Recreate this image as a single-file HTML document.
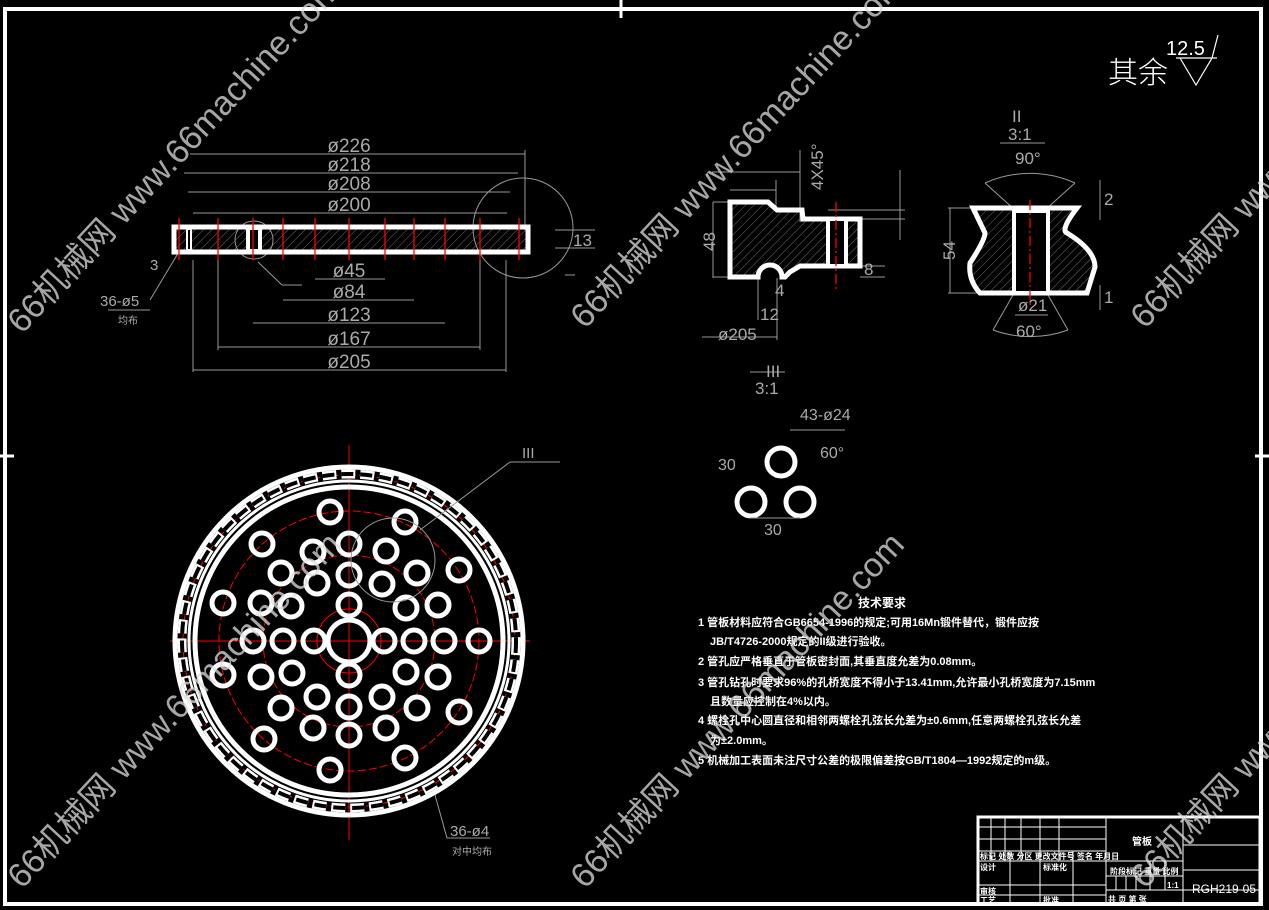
<!DOCTYPE html>
<html><head><meta charset="utf-8"><style>
html,body{margin:0;padding:0;background:#000;width:1269px;height:910px;overflow:hidden}
svg{display:block}
text{font-family:"Liberation Sans","Noto Sans CJK SC",sans-serif}
</style></head><body>
<svg width="1269" height="910" viewBox="0 0 1269 910" xmlns="http://www.w3.org/2000/svg">
<defs>
<pattern id="h" width="6" height="6" patternUnits="userSpaceOnUse" patternTransform="rotate(45)">
<line x1="0" y1="0" x2="0" y2="6" stroke="#888" stroke-width="0.8"/></pattern>
</defs>
<rect width="1269" height="910" fill="#000"/>
<!-- border -->
<rect x="5" y="9" width="1256" height="895" fill="none" stroke="#fff" stroke-width="4"/>
<g stroke="#fff" stroke-width="3">
<line x1="621" y1="0" x2="621" y2="18"/><line x1="0" y1="456" x2="14" y2="456"/>
<line x1="1255" y1="456" x2="1269" y2="456"/>
</g>

<!-- top view section -->
<g stroke="#999" stroke-width="1" fill="none">
<line x1="190" y1="154" x2="525" y2="154"/><line x1="184" y1="173" x2="518" y2="173"/>
<line x1="188" y1="192" x2="510" y2="192"/><line x1="193" y1="213" x2="507" y2="213"/>
<line x1="315" y1="279" x2="385" y2="279"/><line x1="283" y1="300" x2="414" y2="300"/>
<line x1="253" y1="323" x2="445" y2="323"/><line x1="218" y1="347" x2="480" y2="347"/>
<line x1="193" y1="370" x2="506" y2="370"/>
<line x1="193" y1="260" x2="193" y2="372"/><line x1="506" y1="260" x2="506" y2="372"/>
<line x1="525" y1="150" x2="525" y2="230"/><line x1="218" y1="255" x2="218" y2="350"/><line x1="480" y1="255" x2="480" y2="350"/>
<circle cx="523" cy="228" r="50"/><circle cx="254" cy="240" r="19"/>
<line x1="258" y1="262" x2="282" y2="285"/><line x1="282" y1="285" x2="302" y2="285"/>
<line x1="565" y1="275" x2="575" y2="275"/><line x1="180" y1="250" x2="150" y2="300"/>
<line x1="108" y1="310" x2="150" y2="310"/>
<line x1="555" y1="230" x2="595" y2="230"/><line x1="555" y1="248" x2="595" y2="248"/>
</g>
<rect x="174" y="227" width="354" height="25" fill="url(#h)" stroke="#fff" stroke-width="5"/>
<rect x="187" y="229" width="4" height="21" fill="#000" stroke="#fff" stroke-width="2"/>
<rect x="248" y="228" width="12" height="23" fill="#000" stroke="#fff" stroke-width="4"/>
<g stroke="#f00" stroke-width="1.3">
<line x1="179" y1="218" x2="179" y2="260"/><line x1="218" y1="218" x2="218" y2="260"/><line x1="253" y1="218" x2="253" y2="260"/>
<line x1="283" y1="218" x2="283" y2="260"/><line x1="315" y1="218" x2="315" y2="260"/><line x1="349" y1="218" x2="349" y2="260"/>
<line x1="385" y1="218" x2="385" y2="260"/><line x1="414" y1="218" x2="414" y2="260"/><line x1="445" y1="218" x2="445" y2="260"/>
<line x1="480" y1="218" x2="480" y2="260"/><line x1="519" y1="218" x2="519" y2="260"/>
</g>
<g fill="#aaa" font-size="19" text-anchor="middle">
<text x="349" y="152">ø226</text><text x="349" y="171">ø218</text><text x="349" y="190">ø208</text><text x="349" y="211">ø200</text>
<text x="349" y="277">ø45</text><text x="349" y="298">ø84</text><text x="349" y="321">ø123</text>
<text x="349" y="345">ø167</text><text x="349" y="368">ø205</text>
</g>
<text x="100" y="306" fill="#aaa" font-size="15">36-ø5</text>
<text x="118" y="324" fill="#aaa" font-size="10">均布</text>
<text x="150" y="270" fill="#aaa" font-size="15">3</text>
<text x="573" y="246" fill="#aaa" font-size="17">13</text>

<!-- surface mark -->
<text x="1108" y="83" fill="#fff" font-size="30" font-family="Noto Sans CJK SC,sans-serif" font-weight="300">其余</text>
<text x="1166" y="55" fill="#fff" font-size="20">12.5</text>
<path d="M1176 58 L1217 58 M1180 58 L1196 85 L1212 58 L1218 35" stroke="#fff" fill="none" stroke-width="1.2"/>

<!-- detail III section -->
<g stroke="#999" stroke-width="1" fill="none">
<line x1="713" y1="202" x2="713" y2="278"/><line x1="713" y1="202" x2="730" y2="202"/><line x1="713" y1="277" x2="730" y2="277"/>
<line x1="712" y1="172" x2="800" y2="172"/><line x1="730" y1="190" x2="776" y2="190"/><line x1="776" y1="180" x2="776" y2="210"/>
<line x1="800" y1="150" x2="800" y2="222"/><line x1="828" y1="210" x2="905" y2="210"/><line x1="860" y1="219" x2="905" y2="219"/>
<line x1="900" y1="170" x2="900" y2="240"/><line x1="860" y1="266" x2="885" y2="266"/><line x1="860" y1="277" x2="885" y2="277"/>
<line x1="758" y1="278" x2="758" y2="320"/><line x1="777" y1="278" x2="777" y2="340"/>
<line x1="702" y1="337" x2="777" y2="337"/><line x1="750" y1="372" x2="785" y2="372"/>
</g>
<path d="M730 202 L768 202 L777 210 L802 210 L803 219 L860 219 L860 266 L800 266 L790 272 L785 277 L782 277 A12 12 0 0 0 758 277 L730 277 Z" fill="url(#h)" stroke="#fff" stroke-width="5"/>
<rect x="828" y="219" width="18" height="47" fill="#000" stroke="#fff" stroke-width="4"/>
<line x1="836" y1="202" x2="836" y2="290" stroke="#f00" stroke-width="1.3" stroke-dasharray="10 3 2 3"/>
<g fill="#aaa" font-size="17">
<text x="694" y="250" transform="rotate(-90 705 240)">48</text>
<text x="718" y="340">ø205</text><text x="760" y="320">12</text><text x="766" y="377">III</text><text x="755" y="394">3:1</text>
<text x="818" y="195" transform="rotate(-90 818 190)">4X45°</text>
<text x="864" y="275">8</text><text x="775" y="296">4</text>
</g>

<!-- detail II -->
<g stroke="#999" stroke-width="1" fill="none">
<line x1="948" y1="208" x2="973" y2="208"/><line x1="948" y1="293" x2="980" y2="293"/><line x1="950" y1="208" x2="950" y2="293"/>
<path d="M985 183 A110 110 0 0 1 1075 183"/><path d="M993 330 A110 110 0 0 0 1068 330"/>
<line x1="985" y1="183" x2="1015" y2="210"/><line x1="1075" y1="183" x2="1045" y2="210"/>
<line x1="993" y1="330" x2="1013" y2="295"/><line x1="1068" y1="330" x2="1048" y2="295"/>
<line x1="1015" y1="315" x2="1048" y2="315"/><line x1="1000" y1="143" x2="1045" y2="143"/>
<line x1="1100" y1="180" x2="1100" y2="220"/><line x1="1100" y1="285" x2="1100" y2="310"/>
</g>
<path d="M973 208 L1077 208 Q1060 230 1067 233 Q1095 250 1095 267 L1087 293 L980 293 Q968 280 970 263 Q985 240 985 233 Z" fill="url(#h)" stroke="#fff" stroke-width="5"/>
<rect x="1014" y="211" width="34" height="82" fill="#000" stroke="#fff" stroke-width="4"/>
<line x1="1030" y1="200" x2="1030" y2="305" stroke="#f00" stroke-width="1.3" stroke-dasharray="10 3 2 3"/>
<g fill="#aaa" font-size="17">
<text x="1012" y="122">II</text><text x="1008" y="140">3:1</text>
<text x="1015" y="164">90°</text><text x="1016" y="337">60°</text><text x="1018" y="311">ø21</text>
<text x="935" y="260" transform="rotate(-90 945 250)">54</text><text x="1104" y="205">2</text><text x="1104" y="303">1</text>
</g>

<!-- three holes -->
<g fill="none" stroke="#fff" stroke-width="5">
<circle cx="781" cy="462" r="14"/><circle cx="751" cy="502" r="14"/><circle cx="800" cy="502" r="14"/>
</g>
<g stroke="#999" stroke-width="1" fill="none"><line x1="790" y1="430" x2="845" y2="430"/><line x1="750" y1="518" x2="800" y2="518"/></g>
<g fill="#aaa" font-size="16"><text x="800" y="420">43-ø24</text><text x="764" y="535">30</text><text x="718" y="470">30</text><text x="820" y="458">60°</text></g>

<!-- bottom plan view -->
<g stroke="#f00" stroke-width="1" fill="none">
<line x1="170" y1="641" x2="530" y2="641"/><line x1="349" y1="445" x2="349" y2="840"/>
<circle cx="349" cy="641" r="32"/><circle cx="349" cy="641" r="86" stroke-dasharray="8 3"/>
<circle cx="349" cy="641" r="130" stroke-dasharray="8 3"/><circle cx="349" cy="641" r="166" stroke-dasharray="10 3 2 3"/>
</g>
<circle cx="349" cy="641" r="174" fill="none" stroke="#fff" stroke-width="5"/>
<circle cx="349" cy="641" r="167" fill="none" stroke="#fff" stroke-width="9" stroke-dasharray="14 5"/>
<circle cx="349" cy="641" r="167" fill="none" stroke="#000" stroke-width="4" stroke-dasharray="12 7"/>
<circle cx="349" cy="641" r="160" fill="none" stroke="#fff" stroke-width="3"/>
<circle cx="349" cy="641" r="154" fill="none" stroke="#fff" stroke-width="5"/>
<circle cx="349" cy="641" r="21" fill="none" stroke="#fff" stroke-width="5"/>
<g fill="none" stroke="#fff" stroke-width="5">
<circle cx="330" cy="512" r="11"/><circle cx="405" cy="522" r="11"/><circle cx="262" cy="544" r="11"/><circle cx="313" cy="552" r="11"/>
<circle cx="349" cy="544" r="11"/><circle cx="386" cy="551" r="11"/><circle cx="281" cy="573" r="11"/><circle cx="349" cy="575" r="11"/>
<circle cx="417" cy="573" r="11"/><circle cx="459" cy="570" r="11"/><circle cx="317" cy="583" r="11"/><circle cx="382" cy="584" r="11"/>
<circle cx="223" cy="603" r="11"/><circle cx="261" cy="603" r="11"/><circle cx="291" cy="606" r="11"/><circle cx="349" cy="605" r="11"/>
<circle cx="406" cy="608" r="11"/><circle cx="438" cy="605" r="11"/><circle cx="253" cy="641" r="11"/><circle cx="283" cy="641" r="11"/>
<circle cx="314" cy="641" r="11"/><circle cx="384" cy="641" r="11"/><circle cx="414" cy="641" r="11"/><circle cx="444" cy="641" r="11"/>
<circle cx="479" cy="641" r="11"/><circle cx="223" cy="675" r="11"/><circle cx="261" cy="677" r="11"/><circle cx="292" cy="673" r="11"/>
<circle cx="349" cy="675" r="11"/><circle cx="406" cy="672" r="11"/><circle cx="438" cy="677" r="11"/><circle cx="281" cy="708" r="11"/>
<circle cx="317" cy="697" r="11"/><circle cx="349" cy="707" r="11"/><circle cx="382" cy="697" r="11"/><circle cx="417" cy="708" r="11"/>
<circle cx="459" cy="712" r="11"/><circle cx="313" cy="728" r="11"/><circle cx="349" cy="735" r="11"/><circle cx="386" cy="728" r="11"/>
<circle cx="264" cy="739" r="11"/><circle cx="330" cy="770" r="11"/><circle cx="405" cy="758" r="11"/>
</g>
<g stroke="#999" stroke-width="1" fill="none">
<circle cx="393" cy="560" r="42"/><line x1="420" y1="530" x2="510" y2="462"/><line x1="510" y1="462" x2="560" y2="462"/>
<line x1="435" y1="795" x2="447" y2="838"/><line x1="447" y1="838" x2="490" y2="838"/>
</g>
<text x="522" y="458" fill="#aaa" font-size="15">III</text>
<text x="450" y="836" fill="#aaa" font-size="15">36-ø4</text>
<text x="452" y="855" fill="#aaa" font-size="10">对中均布</text>

<!-- tech requirements -->
<g fill="#fff" font-size="11" font-family="Noto Sans CJK SC,sans-serif" font-weight="bold">
<text x="858" y="607" font-size="12">技术要求</text>
<text x="698" y="626">1 管板材料应符合GB6654-1996的规定;可用16Mn锻件替代，锻件应按</text>
<text x="710" y="645">JB/T4726-2000规定的II级进行验收。</text>
<text x="698" y="665">2 管孔应严格垂直于管板密封面,其垂直度允差为0.08mm。</text>
<text x="698" y="686">3 管孔钻孔时要求96%的孔桥宽度不得小于13.41mm,允许最小孔桥宽度为7.15mm</text>
<text x="710" y="705">且数量应控制在4%以内。</text>
<text x="698" y="724">4 螺栓孔中心圆直径和相邻两螺栓孔弦长允差为±0.6mm,任意两螺栓孔弦长允差</text>
<text x="710" y="744">为±2.0mm。</text>
<text x="698" y="764">5 机械加工表面未注尺寸公差的极限偏差按GB/T1804—1992规定的m级。</text>
</g>

<!-- title block -->
<g stroke="#fff" fill="none">
<rect x="978" y="817" width="282" height="87" stroke-width="3"/>
<g stroke-width="1">
<line x1="1106" y1="817" x2="1106" y2="904"/><line x1="1183" y1="817" x2="1183" y2="904"/>
<line x1="978" y1="827" x2="1106" y2="827"/><line x1="978" y1="839" x2="1106" y2="839"/><line x1="978" y1="851" x2="1106" y2="851"/>
<line x1="978" y1="861" x2="1183" y2="861"/><line x1="978" y1="885" x2="1106" y2="885"/><line x1="978" y1="895" x2="1106" y2="895"/>
<line x1="1106" y1="876" x2="1183" y2="876"/><line x1="1106" y1="890" x2="1260" y2="890"/><line x1="1183" y1="845" x2="1260" y2="845"/>
<line x1="1183" y1="870" x2="1260" y2="870"/>
<line x1="991" y1="817" x2="991" y2="861"/><line x1="1005" y1="817" x2="1005" y2="861"/><line x1="1021" y1="817" x2="1021" y2="861"/>
<line x1="1040" y1="817" x2="1040" y2="904"/><line x1="1059" y1="817" x2="1059" y2="861"/><line x1="1010" y1="851" x2="1010" y2="904"/>
<line x1="1073" y1="851" x2="1073" y2="904"/>
<line x1="1150" y1="861" x2="1150" y2="890"/><line x1="1165" y1="861" x2="1165" y2="890"/>
<line x1="1116" y1="876" x2="1116" y2="890"/><line x1="1126" y1="876" x2="1126" y2="890"/><line x1="1136" y1="876" x2="1136" y2="890"/>
</g></g>
<g fill="#fff" font-size="8" font-family="Noto Sans CJK SC,sans-serif" font-weight="bold">
<text x="980" y="859">标记 处数 分区 更改文件号 签名 年月日</text>
<text x="980" y="870">设计</text><text x="1043" y="870">标准化</text>
<text x="980" y="894">审核</text><text x="980" y="903">工艺</text><text x="1043" y="903">批准</text>
<text x="1132" y="845" font-size="10">管板</text>
<text x="1110" y="874">阶段标记 重量 比例</text><text x="1167" y="888">1:1</text>
<text x="1108" y="902">共 页 第 张</text>
</g>
<text x="1192" y="893" fill="#fff" font-size="12">RGH219-05</text>

<!-- watermarks -->
<g fill="#ddd" fill-opacity="0.75" font-size="34">
<text transform="translate(22,335) rotate(-47)">66机械网 www.66machine.com</text>
<text transform="translate(585,330) rotate(-47)">66机械网 www.66machine.com</text>
<text transform="translate(1145,330) rotate(-47)">66机械网 www.66</text>
<text transform="translate(22,890) rotate(-47)">66机械网 www.66machine.com</text>
<text transform="translate(585,890) rotate(-47)">66机械网 www.66machine.com</text>
<text transform="translate(1145,890) rotate(-47)">66机械网 www.66</text>
</g>
</svg>
</body></html>
